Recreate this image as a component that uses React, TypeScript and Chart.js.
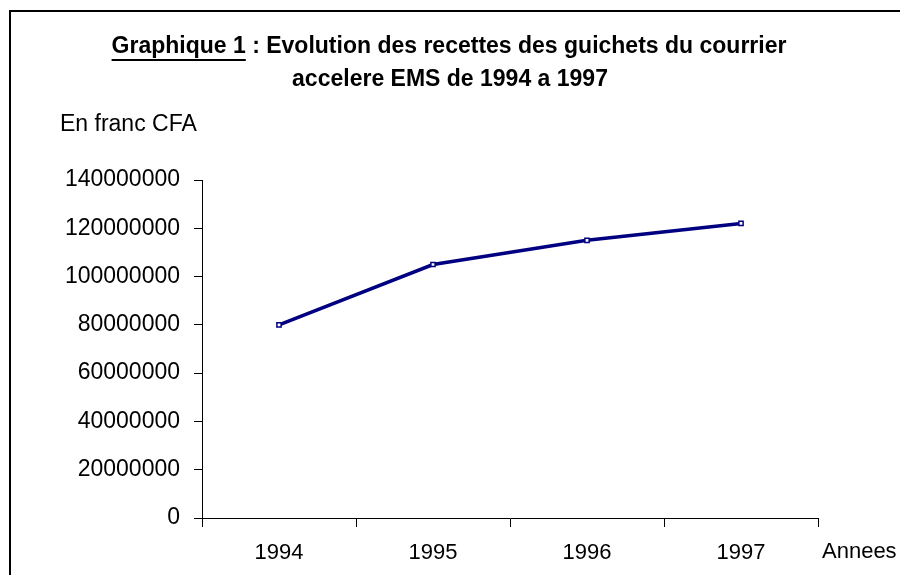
import React, { useEffect, useRef } from "react";
import { Chart, registerables } from "chart.js";

Chart.register(...registerables);

const years = ["1994", "1995", "1996", "1997"];
const recettes = [80000000, 105000000, 115000000, 122000000];
const yMax = 140000000;
const yStep = 20000000;
const titleUnderlined = "Graphique 1";
const titleRest = " : Evolution des recettes des guichets du courrier";
const titleLine2 = "accelere EMS de 1994 a 1997";
const yUnitLabel = "En franc CFA";
const xUnitLabel = "Annees";

const NAVY = "#000080";
const FONT = "'Liberation Sans', Arial, sans-serif";

const decorPlugin = {
  id: "decor",
  afterDraw(chart: any) {
    const ctx = chart.ctx as CanvasRenderingContext2D;
    ctx.save();
    // frame
    ctx.strokeStyle = "#000";
    ctx.lineWidth = 2;
    ctx.strokeRect(10, 11, 1000, 1000);
    // title
    ctx.fillStyle = "#000";
    ctx.font = `bold 23px ${FONT}`;
    ctx.textBaseline = "middle";
    ctx.textAlign = "left";
    const w1 = ctx.measureText(titleUnderlined).width;
    const w2 = ctx.measureText(titleRest).width;
    const cx = 449;
    const x0 = cx - (w1 + w2) / 2;
    ctx.fillText(titleUnderlined, x0, 47);
    ctx.fillText(titleRest, x0 + w1, 47);
    ctx.fillRect(x0, 59, w1, 2);
    ctx.textAlign = "center";
    ctx.fillText(titleLine2, 450, 80);
    // unit labels
    ctx.font = `23px ${FONT}`;
    ctx.textAlign = "left";
    ctx.fillText(yUnitLabel, 60, 125);
    const xScale = chart.scales.x;
    ctx.font = `22px ${FONT}`;
    ctx.fillText(xUnitLabel, xScale.right + 4, 552);
    ctx.restore();
  },
};

export default function App() {
  const ref = useRef<HTMLCanvasElement>(null);
  useEffect(() => {
    if (!ref.current) return;
    const chart = new Chart(ref.current, {
      type: "line",
      data: {
        labels: years,
        datasets: [
          {
            data: recettes,
            borderColor: NAVY,
            borderWidth: 3.5,
            pointStyle: "rect",
            pointRadius: 3,
            pointBorderWidth: 1.5,
            pointBorderColor: NAVY,
            pointBackgroundColor: "#ffffff",
            tension: 0,
          },
        ],
      },
      options: {
        responsive: false,
        animation: false,
        layout: { padding: { top: 180, right: 82, bottom: 0, left: 0 } },
        plugins: {
          legend: { display: false },
          title: { display: false },
          tooltip: { enabled: false },
        },
        scales: {
          x: {
            type: "category",
            offset: true,
            grid: {
              offset: true,
              drawOnChartArea: false,
              drawTicks: true,
              tickLength: 9,
              color: "#000",
            },
            border: { display: true, color: "#000", width: 1 },
            ticks: {
              color: "#000",
              font: { family: FONT, size: 22 },
              padding: 13,
              maxRotation: 0,
            },
            afterFit: (s: any) => {
              s.height = 57;
            },
          },
          y: {
            min: 0,
            max: yMax,
            grid: {
              drawOnChartArea: false,
              drawTicks: true,
              tickLength: 8,
              color: "#000",
            },
            border: { display: true, color: "#000", width: 1 },
            ticks: {
              stepSize: yStep,
              color: "#000",
              font: { family: FONT, size: 23 },
              padding: 14,
              callback: (v: any) => String(v),
            },
            afterFit: (s: any) => {
              s.width = 202;
            },
          },
        },
      },
      plugins: [decorPlugin],
    });
    return () => chart.destroy();
  }, []);
  return (
    <div style={{ position: "fixed", left: 0, top: 0, width: 900, height: 575, background: "#fff" }}>
      <canvas ref={ref} width={900} height={575} style={{ display: "block" }} />
    </div>
  );
}
